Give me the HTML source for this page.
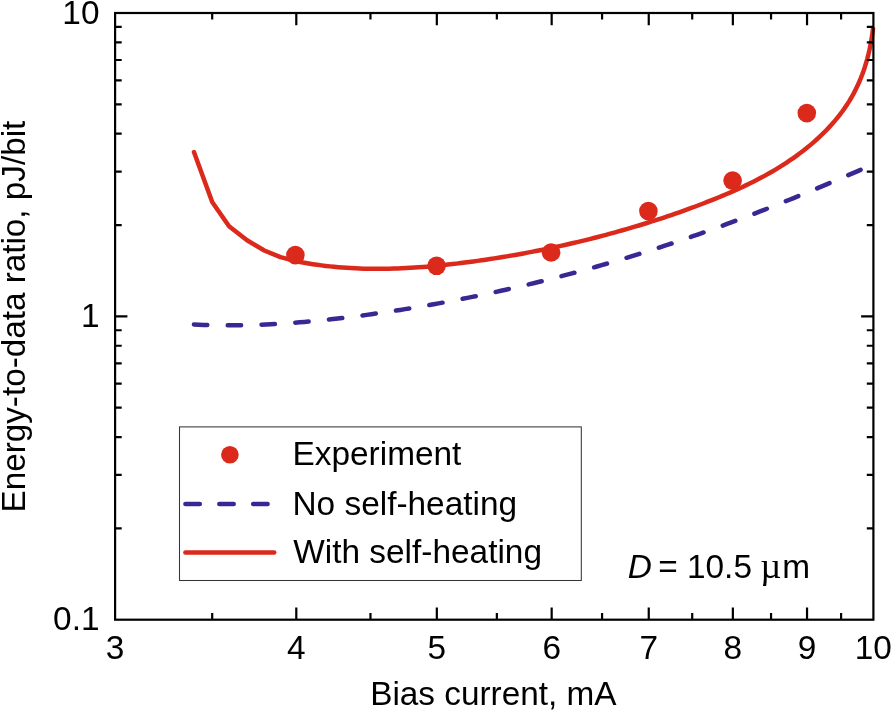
<!DOCTYPE html>
<html lang="en">
<head>
<meta charset="utf-8">
<title>Energy-to-data ratio vs bias current</title>
<style>
html,body{margin:0;padding:0;background:#fff;}
body{width:891px;height:711px;overflow:hidden;}
svg{display:block;}
svg text{font-family:"Liberation Sans",Arial,Helvetica,sans-serif;font-size:33.4px;fill:#000;}
</style>
</head>
<body>
<svg width="891" height="711" viewBox="0 0 891 711">
<rect x="0" y="0" width="891" height="711" fill="#fff"/>

<!-- curves -->
<path d="M193.90,324.49 L198.70,324.71 L203.50,324.89 L208.29,325.05 L213.09,325.17 L217.89,325.25 L222.69,325.31 L227.48,325.34 L232.28,325.33 L237.08,325.30 L241.88,325.23 L246.68,325.14 L251.47,325.02 L256.27,324.87 L261.07,324.69 L265.87,324.48 L270.67,324.25 L275.46,324.00 L280.26,323.71 L285.06,323.41 L289.86,323.07 L294.65,322.72 L299.45,322.34 L304.25,321.94 L309.05,321.51 L313.85,321.07 L318.64,320.60 L323.44,320.11 L328.24,319.61 L333.04,319.08 L337.84,318.53 L342.63,317.97 L347.43,317.38 L352.23,316.78 L357.03,316.17 L361.82,315.53 L366.62,314.88 L371.42,314.22 L376.22,313.54 L381.02,312.84 L385.81,312.13 L390.61,311.41 L395.41,310.67 L400.21,309.92 L405.01,309.15 L409.80,308.37 L414.60,307.57 L419.40,306.76 L424.20,305.94 L428.99,305.10 L433.79,304.25 L438.59,303.38 L443.39,302.50 L448.19,301.60 L452.98,300.69 L457.78,299.77 L462.58,298.83 L467.38,297.87 L472.17,296.90 L476.97,295.92 L481.77,294.92 L486.57,293.91 L491.37,292.88 L496.16,291.84 L500.96,290.78 L505.76,289.71 L510.56,288.62 L515.36,287.52 L520.15,286.40 L524.95,285.27 L529.75,284.13 L534.55,282.97 L539.34,281.79 L544.14,280.60 L548.94,279.40 L553.74,278.18 L558.54,276.94 L563.33,275.69 L568.13,274.43 L572.93,273.15 L577.73,271.85 L582.53,270.54 L587.32,269.22 L592.12,267.88 L596.92,266.52 L601.72,265.16 L606.51,263.77 L611.31,262.37 L616.11,260.96 L620.91,259.52 L625.71,258.08 L630.50,256.62 L635.30,255.14 L640.10,253.65 L644.90,252.15 L649.69,250.62 L654.49,249.09 L659.29,247.53 L664.09,245.97 L668.89,244.38 L673.68,242.79 L678.48,241.17 L683.28,239.54 L688.08,237.90 L692.88,236.24 L697.67,234.56 L702.47,232.87 L707.27,231.17 L712.07,229.44 L716.86,227.71 L721.66,225.96 L726.46,224.19 L731.26,222.41 L736.06,220.61 L740.85,218.80 L745.65,216.98 L750.45,215.14 L755.25,213.30 L760.05,211.43 L764.84,209.56 L769.64,207.67 L774.44,205.77 L779.24,203.86 L784.03,201.94 L788.83,200.00 L793.63,198.06 L798.43,196.10 L803.23,194.13 L808.02,192.16 L812.82,190.17 L817.62,188.17 L822.42,186.16 L827.22,184.15 L832.01,182.12 L836.81,180.08 L841.61,178.04 L846.41,175.99 L851.20,173.93 L856.00,171.86 L860.80,169.78" fill="none" stroke="#392894" stroke-width="4.5" stroke-linecap="round" stroke-linejoin="round" stroke-dasharray="13.4 20.42"/>
<path d="M193.95,152.05 L212.20,202.00 L229.05,226.30 L247.05,240.25 L264.30,250.50 L280.50,257.10 L295.88,261.18 L300.13,262.01 L304.38,262.78 L308.63,263.51 L312.88,264.18 L317.13,264.80 L321.38,265.38 L325.62,265.90 L329.87,266.38 L334.11,266.82 L338.35,267.21 L342.60,267.55 L346.84,267.86 L351.07,268.12 L355.31,268.34 L359.55,268.51 L363.78,268.65 L368.02,268.76 L372.25,268.82 L376.48,268.84 L380.71,268.84 L384.94,268.79 L389.16,268.71 L393.39,268.60 L397.61,268.46 L401.83,268.29 L406.05,268.08 L410.27,267.85 L414.49,267.59 L418.70,267.30 L422.91,266.98 L427.12,266.64 L431.33,266.27 L435.54,265.88 L439.75,265.47 L443.95,265.03 L448.15,264.58 L452.35,264.10 L456.55,263.61 L460.74,263.09 L464.94,262.56 L469.13,262.01 L473.32,261.45 L477.51,260.87 L481.69,260.27 L485.87,259.66 L490.06,259.03 L494.23,258.39 L498.41,257.73 L502.58,257.05 L506.75,256.36 L510.92,255.65 L515.09,254.92 L519.25,254.18 L523.42,253.43 L527.58,252.65 L531.73,251.86 L535.89,251.06 L540.04,250.23 L544.19,249.39 L548.33,248.54 L552.48,247.66 L556.62,246.77 L560.76,245.87 L564.89,244.95 L569.02,244.01 L573.15,243.05 L577.28,242.08 L581.40,241.09 L585.52,240.09 L589.64,239.06 L593.76,238.03 L597.87,236.97 L601.98,235.90 L606.09,234.81 L610.19,233.70 L614.29,232.58 L618.38,231.44 L622.48,230.28 L626.57,229.11 L630.66,227.92 L634.74,226.71 L638.82,225.48 L642.90,224.24 L646.97,222.98 L651.04,221.70 L655.10,220.41 L659.15,219.10 L663.20,217.77 L667.24,216.42 L671.28,215.05 L675.30,213.67 L679.32,212.27 L683.33,210.85 L687.33,209.41 L691.32,207.96 L695.30,206.49 L699.27,204.99 L703.22,203.48 L707.16,201.95 L711.10,200.41 L715.01,198.84 L718.92,197.25 L722.81,195.64 L726.68,194.01 L730.54,192.35 L734.39,190.66 L738.21,188.94 L742.02,187.18 L745.82,185.39 L749.59,183.57 L753.35,181.70 L757.09,179.80 L760.81,177.85 L764.51,175.86 L768.19,173.82 L771.85,171.73 L775.48,169.59 L779.10,167.39 L782.69,165.14 L786.26,162.84 L789.79,160.48 L793.30,158.06 L796.77,155.58 L800.20,153.05 L803.59,150.46 L806.94,147.82 L810.23,145.12 L813.47,142.36 L816.66,139.54 L819.78,136.66 L822.85,133.72 L825.84,130.73 L828.77,127.67 L831.63,124.56 L834.40,121.39 L837.10,118.16 L839.71,114.87 L842.24,111.51 L844.68,108.10 L847.02,104.63 L849.27,101.10 L851.41,97.50 L853.45,93.84 L855.39,90.13 L857.23,86.36 L858.96,82.53 L860.60,78.64 L862.14,74.71 L863.58,70.73 L864.93,66.70 L866.18,62.62 L867.35,58.50 L868.42,54.34 L869.40,50.14 L870.29,45.90 L871.10,41.63 L871.82,37.32 L872.46,32.99 L873.02,28.62" fill="none" stroke="#DB291B" stroke-width="4.5" stroke-linecap="round" stroke-linejoin="round"/>
<g fill="#DB291B">
<circle cx="295.4" cy="255.1" r="9.3"/>
<circle cx="436.6" cy="265.8" r="9.3"/>
<circle cx="551.1" cy="252.5" r="9.3"/>
<circle cx="648.4" cy="211.1" r="9.3"/>
<circle cx="732.6" cy="180.6" r="9.3"/>
<circle cx="806.8" cy="113.1" r="9.3"/>
</g>

<!-- frame and ticks -->
<g fill="none" stroke="#000" stroke-width="2.2" stroke-linecap="butt">
<rect x="115.1" y="13.0" width="758.30" height="606.70"/>
<path d="M296.29,619.7 v-12.3 M296.29,13.0 v12.3"/>
<path d="M436.83,619.7 v-12.3 M436.83,13.0 v12.3"/>
<path d="M551.67,619.7 v-12.3 M551.67,13.0 v12.3"/>
<path d="M648.75,619.7 v-12.3 M648.75,13.0 v12.3"/>
<path d="M732.86,619.7 v-12.3 M732.86,13.0 v12.3"/>
<path d="M807.04,619.7 v-12.3 M807.04,13.0 v12.3"/>
<path d="M212.19,619.7 v-6.6 M212.19,13.0 v6.6"/>
<path d="M370.47,619.7 v-6.6 M370.47,13.0 v6.6"/>
<path d="M496.86,619.7 v-6.6 M496.86,13.0 v6.6"/>
<path d="M602.08,619.7 v-6.6 M602.08,13.0 v6.6"/>
<path d="M692.21,619.7 v-6.6 M692.21,13.0 v6.6"/>
<path d="M771.04,619.7 v-6.6 M771.04,13.0 v6.6"/>
<path d="M841.09,619.7 v-6.6 M841.09,13.0 v6.6"/>
<path d="M115.1,316.35 h12.3 M873.4,316.35 h-12.3"/>
<path d="M115.1,528.38 h6.6 M873.4,528.38 h-6.6"/>
<path d="M115.1,474.97 h6.6 M873.4,474.97 h-6.6"/>
<path d="M115.1,437.07 h6.6 M873.4,437.07 h-6.6"/>
<path d="M115.1,407.67 h6.6 M873.4,407.67 h-6.6"/>
<path d="M115.1,383.65 h6.6 M873.4,383.65 h-6.6"/>
<path d="M115.1,363.34 h6.6 M873.4,363.34 h-6.6"/>
<path d="M115.1,345.75 h6.6 M873.4,345.75 h-6.6"/>
<path d="M115.1,330.23 h6.6 M873.4,330.23 h-6.6"/>
<path d="M115.1,225.03 h6.6 M873.4,225.03 h-6.6"/>
<path d="M115.1,171.62 h6.6 M873.4,171.62 h-6.6"/>
<path d="M115.1,133.72 h6.6 M873.4,133.72 h-6.6"/>
<path d="M115.1,104.32 h6.6 M873.4,104.32 h-6.6"/>
<path d="M115.1,80.30 h6.6 M873.4,80.30 h-6.6"/>
<path d="M115.1,59.99 h6.6 M873.4,59.99 h-6.6"/>
<path d="M115.1,42.40 h6.6 M873.4,42.40 h-6.6"/>
<path d="M115.1,26.88 h6.6 M873.4,26.88 h-6.6"/>
</g>

<!-- tick labels -->
<text x="115.1" y="658.5" text-anchor="middle">3</text>
<text x="296.3" y="658.5" text-anchor="middle">4</text>
<text x="436.8" y="658.5" text-anchor="middle">5</text>
<text x="551.7" y="658.5" text-anchor="middle">6</text>
<text x="648.8" y="658.5" text-anchor="middle">7</text>
<text x="732.9" y="658.5" text-anchor="middle">8</text>
<text x="807.0" y="658.5" text-anchor="middle">9</text>
<text x="873.3" y="658.5" text-anchor="middle">10</text>
<text x="99.5" y="23.6" text-anchor="end">10</text>
<text x="99.5" y="327.0" text-anchor="end">1</text>
<text x="99.5" y="630.3" text-anchor="end">0.1</text>

<!-- axis titles -->
<text x="370.2" y="705" style="font-size:33.35px">Bias current, mA</text>
<text transform="translate(25.4,512.5) rotate(-90)" style="font-size:33.25px">Energy-to-data ratio, pJ/bit</text>

<!-- legend -->
<rect x="179.5" y="426.9" width="401.8" height="153.6" fill="#fff" stroke="#363636" stroke-width="1.05"/>
<circle cx="229.9" cy="454.7" r="8.8" fill="#DB291B"/>
<path d="M185.4,504 H267.6" fill="none" stroke="#392894" stroke-width="4.5" stroke-linecap="round" stroke-dasharray="14.4 19.5"/>
<path d="M185.4,552.5 H274.2" fill="none" stroke="#DB291B" stroke-width="4.5" stroke-linecap="round"/>
<text x="292.5" y="465.3">Experiment</text>
<text x="292.5" y="515.4">No self-heating</text>
<text x="293.3" y="563.3">With self-heating</text>

<!-- annotation -->
<text x="627.7" y="578.2" style="font-style:italic">D</text>
<text x="658.2" y="578.2">= 10.5</text>
<text x="760.2" y="578.2" style="font-size:36.5px;font-family:'Liberation Serif','DejaVu Serif',serif">µ</text>
<text x="782.3" y="578.2">m</text>
</svg>
</body>
</html>
